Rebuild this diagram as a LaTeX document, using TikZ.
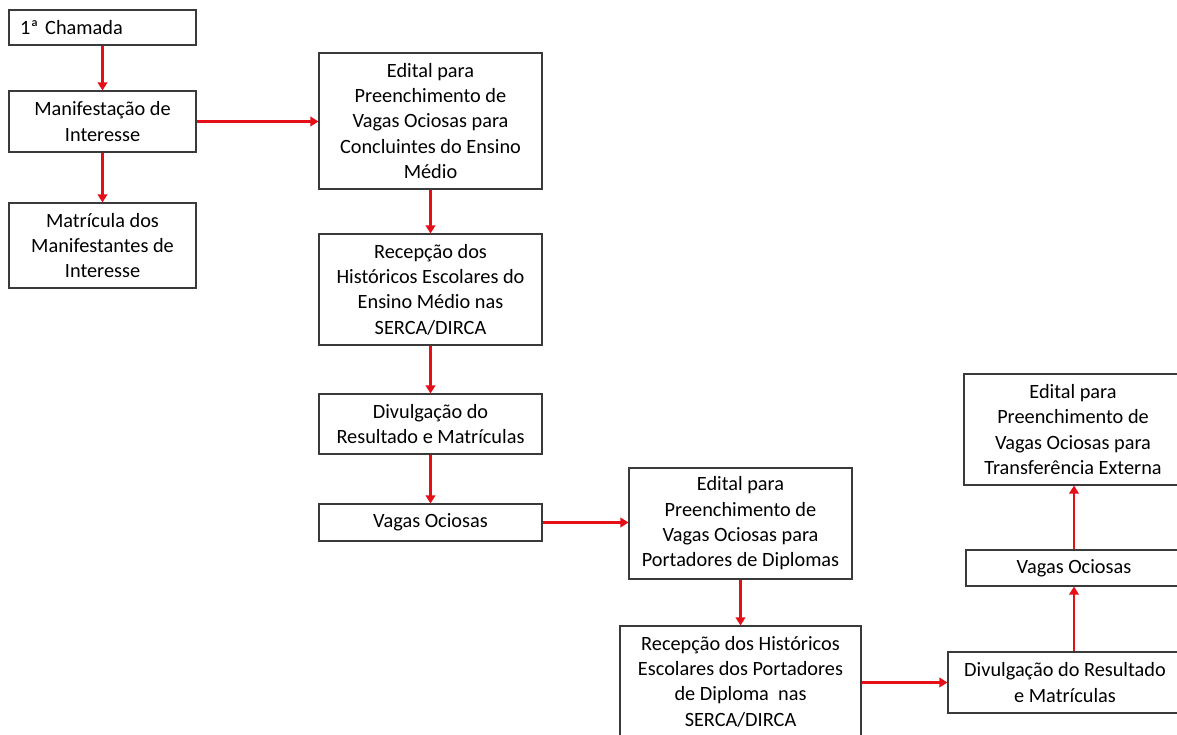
\documentclass[tikz,border=0pt]{standalone}
\usepackage{fontspec}
\setmainfont{Carlito}
\usepackage{xcolor}
\usepackage{tikz}
\usetikzlibrary{positioning, arrows.meta, calc}
\definecolor{flowred}{HTML}{E50F17}
\definecolor{boxgray}{HTML}{3A3A3A}

\tikzset{
  stepbox/.style={draw=boxgray, line width=1.1pt, fill=white, align=center,
                  inner sep=2pt, font=\fontsize{20.3}{25.3}\selectfont},
  flow/.style={draw=flowred, line width=2.8pt,
               -{Triangle[length=8pt, width=9.5pt]}}
}

\begin{document}
\begin{tikzpicture}[x=1pt, y=-1pt]
    \useasboundingbox (0,0) rectangle (1177,734);
    \fill[white] (0,0) rectangle (1177,734);
    \clip (0,0) rectangle (1177,734);

    % first call, left column
    \node[stepbox, minimum width=187pt, minimum height=35pt, text width=165pt, align=left]
      (cham) at (102.5,27.5) {1ª Chamada};
    \node[stepbox, minimum width=187pt, minimum height=61pt]
      (manif) at (102.5,121.5) {Manifestação de\\Interesse};
    \node[stepbox, minimum width=187pt, minimum height=85pt]
      (matr) at (102.5,245.5) {Matrícula dos\\Manifestantes de\\Interesse};

    % concluintes do ensino medio
    \node[stepbox, minimum width=223pt, minimum height=136pt]
      (edit1) at (430.5,121) {Edital para\\Preenchimento de\\Vagas Ociosas para\\Concluintes do Ensino\\Médio};
    \node[stepbox, minimum width=223pt, minimum height=111pt]
      (recep1) at (430.5,289.5) {Recepção dos\\Históricos Escolares do\\Ensino Médio nas\\SERCA/DIRCA};
    \node[stepbox, minimum width=223pt, minimum height=60pt]
      (divul1) at (430.5,424) {Divulgação do\\Resultado e Matrículas};
    \node[stepbox, minimum width=223pt, minimum height=37pt]
      (vagas1) at (430.5,522.5) {Vagas Ociosas};

    % portadores de diplomas
    \node[stepbox, minimum width=223pt, minimum height=111pt]
      (edit2) at (740.5,523.5) {Edital para\\Preenchimento de\\Vagas Ociosas para\\Portadores de Diplomas};
    \node[stepbox, minimum width=241pt, minimum height=111pt]
      (recep2) at (740.5,681.5) {Recepção dos Históricos\\Escolares dos Portadores\\de Diploma\ \ nas\\SERCA/DIRCA};

    % transferencia externa
    \node[stepbox, minimum width=234pt, minimum height=61pt]
      (divul2) at (1065,682.5) {Divulgação do Resultado\\e Matrículas};
    \node[stepbox, minimum width=216pt, minimum height=36pt]
      (vagas2) at (1074,568) {Vagas Ociosas};
    \node[stepbox, minimum width=218pt, minimum height=111pt]
      (edit3) at (1073,429.5) {Edital para\\Preenchimento de\\Vagas Ociosas para\\Transferência Externa};

    % connectors
    \draw[flow] (cham) -- (manif);
    \draw[flow] (manif) -- (matr);
    \draw[flow] (manif.east) -- (manif.east -| edit1.west);
    \draw[flow] (edit1) -- (recep1);
    \draw[flow] (recep1) -- (divul1);
    \draw[flow] (divul1) -- (vagas1);
    \draw[flow] (vagas1.east) -- (vagas1.east -| edit2.west);
    \draw[flow] (edit2) -- (recep2);
    \draw[flow] (recep2.east |- divul2.west) -- (divul2.west);
    \draw[flow] (vagas2.south |- divul2.north) -- (vagas2.south);
    \draw[flow] (vagas2.north) -- (vagas2.north |- edit3.south);
\end{tikzpicture}
\end{document}
